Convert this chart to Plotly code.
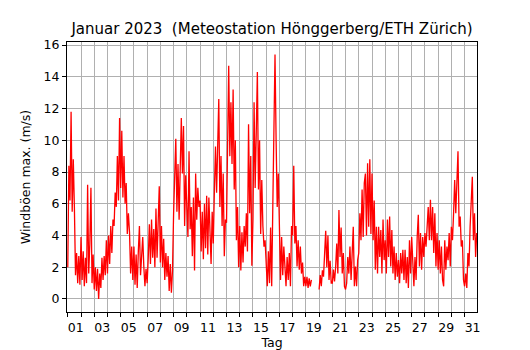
import pandas as pd
import plotly.graph_objects as go

# Wind gust maxima (m/s), 2-hourly samples, Jan 2023
gusts_w1 = [
    2.0, 8.4, 6.2, 11.8, 5.5, 8.8, 5.8, 1.5, 2.9, 1.0, 2.7, 0.9,      # 01
    3.9, 1.2, 3.0, 0.8, 2.6, 1.0, 7.2, 1.6, 3.5, 7.0, 1.0, 2.8,       # 02
    0.6, 2.0, 0.5, 1.9, 0.0, 1.6, 0.7, 2.6, 1.2, 2.7, 1.5, 3.7,       # 03
    1.6, 4.0, 2.2, 4.6, 2.9, 5.0, 4.6, 6.7, 5.8, 9.0, 6.2, 11.4,      # 04
    7.0, 10.6, 6.4, 9.0, 6.0, 7.3, 4.1, 5.4, 4.2, 1.6, 3.3, 1.2,      # 05
    3.3, 0.9, 2.8, 0.7, 3.0, 4.6, 1.5, 3.2, 3.9, 2.0, 0.8, 1.9,       # 06
    1.0, 2.6, 4.7, 2.2, 5.0, 2.6, 4.4, 2.0, 5.7, 2.6, 4.8, 7.1,       # 07
]
gusts_w2 = [
    2.3, 4.6, 2.0, 3.8, 1.2, 2.9, 1.4, 2.7, 0.5, 2.2, 0.4, 1.8,       # 08
    5.4, 8.8, 10.1, 5.5, 8.5, 5.0, 8.0, 11.4, 7.9, 10.9, 4.6, 7.8,    # 09
    5.8, 3.9, 9.3, 4.4, 5.8, 2.7, 6.4, 1.8, 7.9, 5.0, 7.0, 5.8,       # 10
    6.2, 3.0, 5.5, 2.5, 6.0, 3.2, 6.5, 2.8, 6.4, 4.0, 2.2, 5.5,       # 11
    3.5, 6.8, 9.6, 6.7, 9.0, 12.6, 5.8, 9.0, 4.6, 7.9, 2.7, 5.0,      # 12
    4.8, 9.0, 14.7, 9.0, 12.4, 8.5, 13.2, 6.9, 10.0, 3.7, 5.8, 2.0,   # 13
    4.6, 1.8, 4.2, 2.3, 4.6, 3.3, 5.4, 3.0, 11.0, 5.4, 9.0, 2.1,      # 14
]
gusts_w3 = [
    5.0, 12.4, 7.0, 10.5, 14.3, 6.9, 10.0, 4.1, 7.5, 4.6, 3.3, 3.7,   # 15
    1.6, 0.8, 3.0, 1.0, 4.5, 0.8, 5.8, 10.5, 15.4, 10.0, 5.8, 7.9,    # 16
    5.0, 1.2, 3.9, 1.5, 3.3, 2.0, 0.8, 2.65, 1.2, 2.9, 0.8, 4.6,      # 17
    4.0, 8.4, 3.5, 4.6, 2.05, 3.7, 1.85, 3.3, 1.6, 2.3, 0.8, 1.4,     # 18
    0.8, 1.4, 0.7, 1.3, 0.8, 1.2, None, None, None, None, None, None, # 19
    0.6, 1.5, 0.8, 1.8, 1.4, 2.6, 4.3, 2.0, 4.0, 1.2, 2.4, 1.0,       # 20
    1.0, 1.85, 1.1, 2.0, 3.5, 1.6, 5.6, 2.65, 4.5, 1.6, 2.9, 0.8,     # 21
]
gusts_w4 = [
    0.6, 1.0, 2.65, 1.6, 3.3, 1.2, 3.1, 4.55, 0.8, 2.05, 0.8, 2.45,   # 22
    2.9, 5.4, 3.7, 6.9, 3.9, 7.3, 7.9, 4.0, 8.55, 4.55, 8.8, 4.1,     # 23
    7.9, 3.7, 6.2, 1.85, 4.55, 1.6, 4.55, 2.65, 4.35, 1.6, 5.0, 2.45, # 24
    3.7, 1.6, 5.0, 2.65, 5.2, 2.05, 4.35, 1.6, 3.3, 1.2, 2.9, 1.4,    # 25
    2.45, 1.0, 2.9, 1.6, 3.1, 1.2, 3.1, 1.0, 2.65, 0.7, 3.7, 1.6,     # 26
    3.9, 1.85, 0.8, 2.65, 1.2, 3.9, 5.3, 2.05, 4.15, 1.85, 3.9, 2.65, # 27
    4.15, 3.3, 4.55, 5.8, 3.7, 6.25, 3.7, 5.8, 2.9, 5.4, 2.05, 4.15,  # 28
]
gusts_w5 = [
    1.85, 3.7, 1.6, 3.3, 1.2, 0.8, 3.7, 1.85, 3.3, 2.45, 4.15, 2.05,  # 29
    4.55, 3.7, 5.4, 7.5, 5.4, 7.9, 9.3, 4.55, 5.2, 3.3, 3.7, 1.2,     # 30
    0.8, 1.6, 0.7, 2.9, 2.05, 4.55, 5.8, 7.7, 3.7, 5.4, 2.65, 4.15,   # 31
]

day_labels = ["01", "", "03", "", "05", "", "07", "", "09", "", "11", "",
              "13", "", "15", "", "17", "", "19", "", "21", "", "23", "",
              "25", "", "27", "", "29", "", "31"]
y_ticks = [0, 2, 4, 6, 8, 10, 12, 14, 16]

gusts = gusts_w1 + gusts_w2 + gusts_w3 + gusts_w4 + gusts_w5
times = pd.date_range("2023-01-01 00:00", periods=len(gusts), freq="2h")
day_ticks = pd.date_range("2023-01-01", periods=len(day_labels), freq="D")

fig = go.Figure(go.Scatter(x=times, y=gusts, mode="lines",
                           line=dict(color="#ff0000", width=1.3),
                           connectgaps=False, hoverinfo="skip"))

font = "DejaVu Sans"
# page body has an 8px margin: figure is sized/placed to compensate
W, H = 522, 342
fig.update_layout(
    width=W, height=H,
    margin=dict(l=59, r=53, t=34, b=38, autoexpand=False),
    paper_bgcolor="white", plot_bgcolor="white",
    showlegend=False,
    font=dict(family=font, size=12.5, color="black"),
    title=dict(text="Januar 2023  (Meteostation Hönggerberg/ETH Zürich)",
               x=0.5, xref="paper", xanchor="center",
               y=1 - 21 / H, yref="container", yanchor="middle",
               font=dict(family=font, size=15, color="black")),
)
fig.update_xaxes(
    type="date",
    range=["2022-12-31 22:35", "2023-01-31 22:30"],
    tickmode="array", tickvals=day_ticks, ticktext=day_labels,
    ticklabelshift=8,
    ticks="outside", ticklen=4, tickcolor="black", tickwidth=1,
    showgrid=True, gridcolor="#b0b0b0", gridwidth=1,
    showline=True, linecolor="black", linewidth=1, mirror=True,
    zeroline=False, automargin=False,
    tickfont=dict(family=font, size=12.5, color="black"),
    title=dict(text="Tag", standoff=4, font=dict(family=font, size=12.5)),
)
fig.update_yaxes(
    range=[-0.82, 16.19],
    tickmode="array", tickvals=y_ticks,
    ticks="outside", ticklen=4, tickcolor="black", tickwidth=1,
    showgrid=True, gridcolor="#b0b0b0", gridwidth=1,
    showline=True, linecolor="black", linewidth=1, mirror=True,
    zeroline=False, automargin=False,
    tickfont=dict(family=font, size=12.5, color="black"),
    title=dict(text="Windböen max. (m/s)", standoff=10, font=dict(family=font, size=12.5)),
)

fig.write_html("out.html")
